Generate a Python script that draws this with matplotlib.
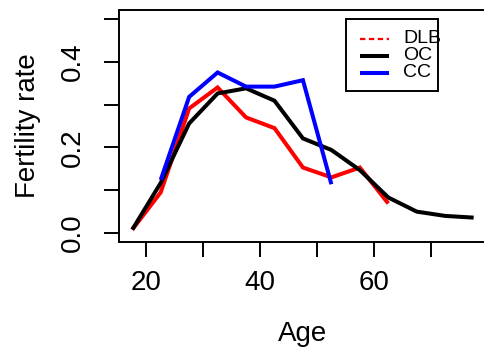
import matplotlib
matplotlib.use("Agg")
import matplotlib.pyplot as plt
from matplotlib.lines import Line2D
from matplotlib.patches import Rectangle

plt.rcParams['font.family'] = ['Liberation Sans', 'DejaVu Sans']

# Data
age_oc = [17.5, 22.5, 27.5, 32.5, 37.5, 42.5, 47.5, 52.5, 57.5, 62.5, 67.5, 72.5, 77.5]
oc = [0.008, 0.117, 0.256, 0.326, 0.338, 0.309, 0.221, 0.194, 0.147, 0.083, 0.050, 0.040, 0.036]
age_dlb = [17.5, 22.5, 27.5, 32.5, 37.5, 42.5, 47.5, 52.5, 57.5, 62.5]
dlb = [0.008, 0.095, 0.291, 0.340, 0.270, 0.245, 0.153, 0.130, 0.153, 0.069]
age_cc = [22.5, 27.5, 32.5, 37.5, 42.5, 47.5, 52.5]
cc = [0.124, 0.318, 0.375, 0.342, 0.342, 0.357, 0.114]
legend_labels = ["DLB", "OC", "CC"]
xticks = [20, 30, 40, 50, 60, 70]
xticklabels = ["20", "", "40", "", "60", ""]
yticks = [0.0, 0.1, 0.2, 0.3, 0.4, 0.5]
yticklabels = ["0.0", "", "0.2", "", "0.4", ""]

W, H = 485, 357
fig = plt.figure(figsize=(W / 100, H / 100), dpi=100)
ax = fig.add_axes([118.6 / W, 1 - 241.6 / H, (487.3 - 118.6) / W, (241.6 - 10.4) / H])

lw = 2.9
ax.plot(age_dlb, dlb, color='#ff0000', lw=lw, solid_joinstyle='miter', solid_capstyle='butt')
ax.plot(age_oc, oc, color='black', lw=lw, solid_joinstyle='miter', solid_capstyle='butt')
ax.plot(age_cc, cc, color='#0000ff', lw=lw, solid_joinstyle='miter', solid_capstyle='butt')

ax.set_xlim(15.1, 79.9)
ax.set_ylim(-0.02, 0.52)
ax.set_xticks(xticks)
ax.set_xticklabels(xticklabels)
ax.set_yticks(yticks)
ax.set_yticklabels(yticklabels, rotation=90, va='center')
for s in ax.spines.values():
    s.set_linewidth(1.4)
ax.tick_params(axis='both', length=10.5, width=1.4, labelsize=20, color='black')
ax.tick_params(axis='x', pad=10)
ax.tick_params(axis='y', pad=13)
ax.set_xlabel("Age", fontsize=20, labelpad=18)
ax.set_ylabel("Fertility rate", fontsize=20, labelpad=14)

# Manual legend (R style) in pixel coordinates
def fx(x):
    return x / W

def fy(y):
    return 1 - y / H

fig.patches.append(Rectangle((fx(346), fy(91)), fx(438) - fx(346), fy(18.5) - fy(91),
                             transform=fig.transFigure, fill=False, edgecolor='black', lw=1.4))
leg_styles = [dict(color='#ff0000', lw=1.6, ls=(0, (2.4, 1.6))),
              dict(color='black', lw=2.9),
              dict(color='#0000ff', lw=2.9)]
leg_y = [38.5, 56, 72.7]
for lab, st, yy in zip(legend_labels, leg_styles, leg_y):
    fig.lines.append(Line2D([fx(360), fx(389)], [fy(yy), fy(yy)], transform=fig.transFigure,
                            solid_capstyle='butt', dash_capstyle='butt', **st))
    fig.text(fx(403), fy(yy), lab, fontsize=14, va='center', ha='left')

fig.savefig("out.png", dpi=100)
